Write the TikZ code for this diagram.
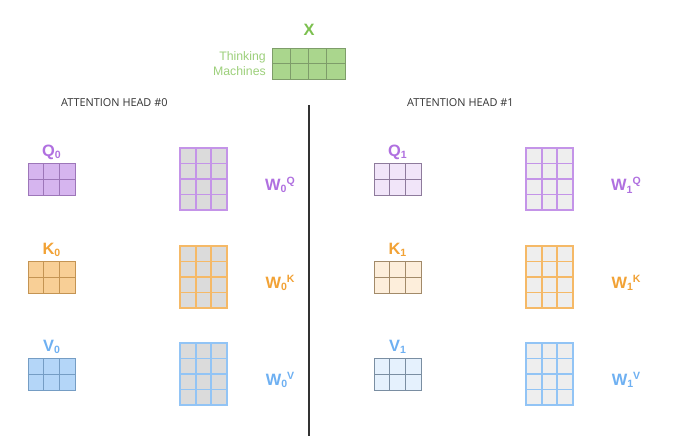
\documentclass[tikz,border=0pt]{standalone}
\usepackage{fontspec}
\setmainfont{Liberation Sans}
\newfontfamily\headfont{Open Sans}
\definecolor{Purp}{HTML}{B070E0}
\definecolor{Orng}{HTML}{F2A235}
\definecolor{Blu}{HTML}{6EB0F2}
\definecolor{Grn}{HTML}{7CC04F}
\definecolor{Ink}{HTML}{333333}

% inner lines of a matrix node: node, columns, rows, width, height (px), line style
\newcommand{\cellgrid}[6]{%
  \begin{scope}[shift={(#1.north west)}]
    \foreach \ci in {2,...,#2}
      \draw[#6] ({(\ci-1)*#4/#2},0) -- ++(0,#5);
    \foreach \ri in {2,...,#3}
      \draw[#6] (0,{(\ri-1)*#5/#3}) -- ++(#4,0);
  \end{scope}
}
% cells of a weight matrix on its coloured node: node, columns, rows, width, height (px), cell fill
\newcommand{\cellfill}[6]{%
  \begin{scope}[shift={(#1.north west)}]
    \foreach \ci in {1,...,#2}
      \foreach \ri in {1,...,#3}
        \fill[#6] ({(\ci-1)*#4/#2+0.9},{(\ri-1)*#5/#3+0.9})
          rectangle ({\ci*#4/#2-0.9},{\ri*#5/#3-0.9});
  \end{scope}
}
% small index next to a letter
\newcommand{\lo}[1]{\raisebox{-0.25ex}{\fontsize{9}{9}\selectfont #1}}
\newcommand{\hi}[1]{\raisebox{0.75ex}{\fontsize{9}{9}\selectfont #1}}

\begin{document}
\begin{tikzpicture}[x=0.03cm,y=-0.03cm,
  mat/.style={draw,rectangle,inner sep=0pt,outer sep=0pt,line width=0.8pt},
  smallmat/.style={mat,minimum width=1.41cm,minimum height=0.96cm},
  bigmat/.style={mat,line width=1.1pt,minimum width=1.41cm,minimum height=1.86cm},
  inmat/.style={mat,minimum width=2.19cm,minimum height=0.93cm},
  matlabel/.style={font=\fontsize{14}{16}\selectfont\bfseries,inner sep=0pt},
  headlabel/.style={font=\headfont\fontsize{9.3}{11}\selectfont,text=Ink,inner sep=0pt},
  wordlabel/.style={font=\fontsize{10.5}{12.8}\selectfont,text=Grn!75!white,align=right,inner sep=0pt}]
  \fill[white] (0,0) rectangle (685,444);
  \useasboundingbox (0,0) rectangle (685,444);

  % input embeddings
  \node[matlabel,text=Grn] (xlabel) at (309,30) {X};
  \node[inmat,draw=Grn!45!gray,fill=Grn!65!white] (xmat) at (308.5,63.5) {};
  \cellgrid{xmat}{4}{2}{73}{31}{Grn!45!gray,line width=0.8pt}
  \node[wordlabel,anchor=east] (words) at (266,63.5) {Thinking\\Machines};

  % divider between the heads
  \coordinate (divtop) at (309,105);
  \coordinate (divbot) at (309,436);
  \draw[Ink,line width=1pt] (divtop) -- (divbot);

  \foreach \h/\dx/\amt/\wg/\ln in {0/0/52/28/60,1/346/18/13/30}{
    \node[headlabel,anchor=west] (head\h) at (61+\dx,103) {ATTENTION HEAD \#\h};
    \foreach \ltr/\col/\yy in {Q/Purp/179,K/Orng/277,V/Blu/374}{
      \node[smallmat,draw=\col!\ln!gray,fill=\col!\amt!white] (\ltr\h) at (51.5+\dx,\yy) {};
      \cellgrid{\ltr\h}{3}{2}{47}{32}{\col!\ln!gray,line width=0.8pt}
      \node[matlabel,text=\col] (\ltr lab\h) at (51.5+\dx,\yy-27) {\ltr\lo{\h}};
      \node[bigmat,draw=\col!75!white,fill=\col!75!white] (W\ltr\h) at (203.5+\dx,\yy) {};
      \cellfill{W\ltr\h}{3}{4}{47}{62}{gray!\wg}
      \node[matlabel,text=\col] (W\ltr lab\h) at (280+\dx,\yy+6)
        {W\lo{\h}\hi{\ltr}};
    }
  }
\end{tikzpicture}
\end{document}
